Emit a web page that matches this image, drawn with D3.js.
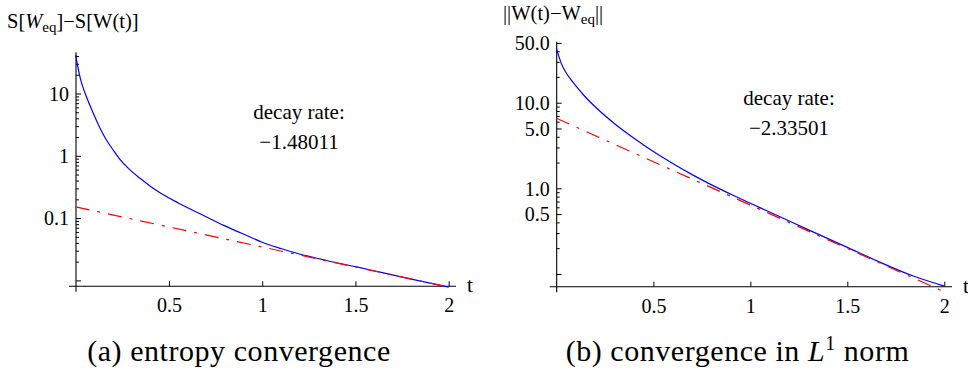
<!DOCTYPE html>
<html>
<head>
<meta charset="utf-8">
<script src="https://cdn.jsdelivr.net/npm/d3@7"></script>
</head>
<body style="margin:0">
<div id="chart"></div>
<script>
var SERIF = "'Liberation Serif', serif";

// time ticks shared by both panels
var tTicks = [0.5, 1, 1.5, 2];

// (a) entropy gap S[W_eq]-S[W(t)]
var entropyT   = [0, 0.01, 0.025, 0.04, 0.055, 0.075, 0.1, 0.13, 0.16, 0.2, 0.237, 0.28, 0.345, 0.4, 0.452, 0.55, 0.667, 0.8, 0.92, 1.0, 1.1, 1.2, 1.35, 1.5, 1.65, 1.8, 2.0];
var entropyGap = [41.7, 28.2, 17.4, 12.3, 9.3, 6.6, 4.4, 2.8, 1.9, 1.25, 0.88, 0.64, 0.435, 0.325, 0.255, 0.175, 0.1175, 0.075, 0.052, 0.041, 0.0325, 0.0265, 0.0207, 0.0166, 0.0132, 0.0105, 0.00782];
var entropyFitT = [0, 2];
var entropyFit  = [0.151, 0.00782];
var entropyMajor = [10, 1, 0.1, 0.01];
var entropyMajorLabels = ["10", "1", "0.1", ""];
var entropyMinor = [40, 30, 20, 9, 8, 7, 6, 5, 4, 3, 2, 0.9, 0.8, 0.7, 0.6, 0.5, 0.4, 0.3, 0.2,
                    0.09, 0.08, 0.07, 0.06, 0.05, 0.04, 0.03, 0.02];

// (b) L1 distance ||W(t)-W_eq||
var normT    = [0, 0.025, 0.05, 0.077, 0.11, 0.146, 0.215, 0.3, 0.4, 0.5, 0.6, 0.7, 0.8, 0.9, 1.0, 1.15, 1.3, 1.5, 1.67, 1.84, 2.0];
var normDiff = [43.4, 28.8, 22.4, 18.4, 14.8, 11.9, 8.32, 5.69, 3.85, 2.69, 1.95, 1.445, 1.096, 0.851, 0.668, 0.468, 0.327, 0.204, 0.1365, 0.0944, 0.0721];
var normFitT = [0, 2];
var normFit  = [6.58, 0.0617];
var normMajor = [50, 10, 5, 1, 0.5, 0.1];
var normMajorLabels = ["50.0", "10.0", "5.0", "1.0", "0.5", ""];
var normMinor = [40, 30, 20, 9, 8, 7, 6, 4, 3, 2, 0.9, 0.8, 0.7, 0.6, 0.4, 0.3, 0.2];

var svg = d3.select('#chart').append('svg')
    .attr('width', 968)
    .attr('height', 368);

svg.append('rect').attr('width', 968).attr('height', 368).attr('fill', '#ffffff');

function zip(xs, ys) {
    return xs.map(function (x, i) { return [x, ys[i]]; });
}

function addText(parent, x, y, size, str) {
    return parent.append('text')
        .attr('x', x).attr('y', y)
        .attr('font-family', SERIF)
        .attr('font-size', size)
        .text(str);
}

function drawPanel(p) {
    var g = svg.append('g');
    var x = d3.scaleLinear().domain([0, 2]).range([p.x0, p.x2]);
    var y = d3.scaleLog().domain(p.yDomain).range([p.yBottom, p.yTop]);

    // minor y ticks
    g.append('g')
        .attr('transform', 'translate(' + p.axisX + ',0)')
        .call(d3.axisLeft(y).tickValues(p.minor).tickSizeInner(-3).tickSizeOuter(0).tickFormat(''))
        .call(function (s) { s.select('.domain').remove(); s.selectAll('line').attr('stroke', '#000'); });

    // major y ticks with labels
    g.append('g')
        .attr('transform', 'translate(' + p.axisX + ',0)')
        .call(d3.axisLeft(y).tickValues(p.major).tickSizeInner(-5).tickSizeOuter(0).tickPadding(7)
            .tickFormat(function (d, i) { return p.majorLabels[i]; }))
        .call(function (s) {
            s.attr('font-family', null).attr('font-size', null);
            s.select('.domain').remove();
            s.selectAll('line').attr('stroke', '#000');
            s.selectAll('text').attr('font-family', SERIF).attr('font-size', 20).attr('dy', '0.34em');
        });

    // x ticks
    g.append('g')
        .attr('transform', 'translate(0,' + p.yBottom + ')')
        .call(d3.axisBottom(x).tickValues(tTicks).tickSizeInner(-5).tickSizeOuter(0).tickPadding(12)
            .tickFormat(function (d) { return String(d); }))
        .call(function (s) {
            s.attr('font-family', null).attr('font-size', null);
            s.select('.domain').remove();
            s.selectAll('line').attr('stroke', '#000');
            s.selectAll('text').attr('font-family', SERIF).attr('font-size', 20);
        });

    // axis lines
    g.append('line')
        .attr('x1', p.axisX - 7).attr('x2', p.xEnd)
        .attr('y1', p.yBottom).attr('y2', p.yBottom)
        .attr('stroke', '#000').attr('stroke-width', 1.1);
    g.append('line')
        .attr('x1', p.axisX).attr('x2', p.axisX)
        .attr('y1', p.yTop).attr('y2', p.yBottom + 5.5)
        .attr('stroke', '#000').attr('stroke-width', 1.1);

    var line = d3.line()
        .x(function (d) { return x(d[0]); })
        .y(function (d) { return y(d[1]); })
        .curve(d3.curveMonotoneX);

    g.append('path')
        .datum(zip(p.t, p.v))
        .attr('d', line)
        .attr('fill', 'none')
        .attr('stroke', '#0000ff')
        .attr('stroke-width', 1.2);

    g.append('path')
        .datum(zip(p.fitT, p.fit))
        .attr('d', d3.line().x(function (d) { return x(d[0]); }).y(function (d) { return y(d[1]); }))
        .attr('fill', 'none')
        .attr('stroke', '#ff0000')
        .attr('stroke-width', 1.2)
        .attr('stroke-dasharray', '14,8,3,8');

    addText(g, p.xEnd + 11, p.yBottom + 6, 21, 't');
    addText(g, p.noteX, p.noteY, 21, 'decay rate:').attr('text-anchor', 'middle');
    addText(g, p.noteX, p.noteY + 29.5, 21, p.rate).attr('text-anchor', 'middle');

    // y label
    var lab = addText(g, p.labX, p.labY, p.labSize, null);
    p.label(lab);

    // caption
    var cap = addText(g, p.capX, 361, 30, null)
        .attr('text-anchor', 'middle')
        .attr('letter-spacing', '0.55px');
    p.caption(cap);
}

drawPanel({
    x0: 75.7, x2: 448.7, axisX: 76, xEnd: 456,
    yDomain: [0.00804, 45.9], yBottom: 286.3, yTop: 52.3,
    major: entropyMajor, majorLabels: entropyMajorLabels, minor: entropyMinor,
    t: entropyT, v: entropyGap, fitT: entropyFitT, fit: entropyFit,
    noteX: 299, noteY: 119, rate: '\u22121.48011',
    labX: 7, labY: 28, labSize: 20.5,
    label: function (t) {
        t.append('tspan').text('S[');
        t.append('tspan').attr('font-style', 'italic').text('W');
        t.append('tspan').attr('font-size', 15).attr('dy', 4).text('eq');
        t.append('tspan').attr('dy', -4).text(']\u2212S[W(t)]');
    },
    capX: 239,
    caption: function (t) { t.append('tspan').text('(a) entropy convergence'); }
});

drawPanel({
    x0: 556.4, x2: 944.3, axisX: 556.7, xEnd: 952,
    yDomain: [0.0709, 51.6], yBottom: 286.7, yTop: 41.7,
    major: normMajor, majorLabels: normMajorLabels, minor: normMinor,
    t: normT, v: normDiff, fitT: normFitT, fit: normFit,
    noteX: 789, noteY: 105, rate: '\u22122.33501',
    labX: 503, labY: 20, labSize: 20.5,
    label: function (t) {
        t.append('tspan').text('||W(t)\u2212W');
        t.append('tspan').attr('font-size', 15).attr('dy', 4).text('eq');
        t.append('tspan').attr('dy', -4).text('||');
    },
    capX: 737.5,
    caption: function (t) {
        t.append('tspan').text('(b) convergence in ');
        t.append('tspan').attr('font-style', 'italic').text('L');
        t.append('tspan').attr('font-size', 20).attr('dy', -11).text('1');
        t.append('tspan').attr('dy', 11).text(' norm');
    }
});
</script>
</body>
</html>
